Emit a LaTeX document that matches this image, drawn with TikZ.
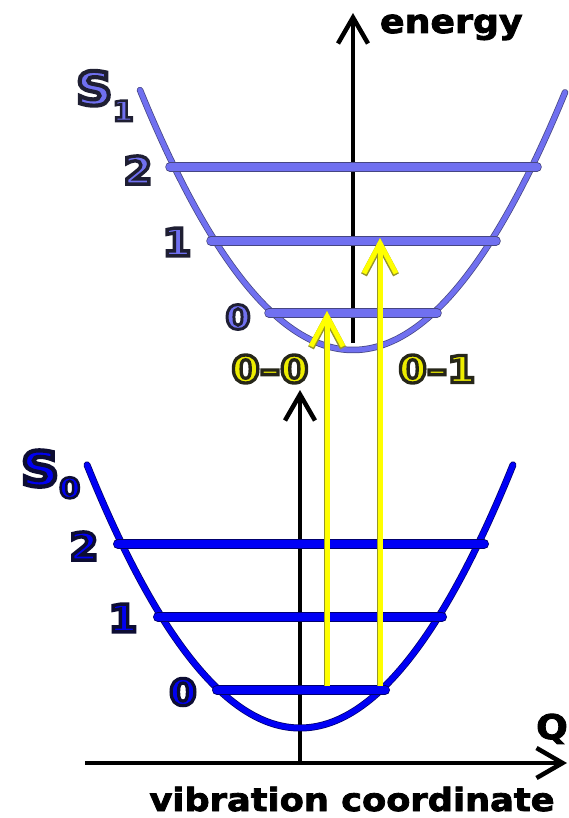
\documentclass[tikz,border=0pt]{standalone}
\usepackage{fontspec}
\usetikzlibrary{arrows.meta}
\newfontface\plb[FakeStretch=1.1,FakeBold=2.5]{DejaVu Sans Bold}
\newfontface\olb[FakeStretch=1.1,FakeBold=9]{DejaVu Sans Bold}
\definecolor{s1col}{RGB}{112,112,240}
\definecolor{s1edge}{RGB}{70,70,130}
\definecolor{s0col}{RGB}{0,0,245}
\definecolor{s0edge}{RGB}{0,0,110}
\definecolor{ycol}{RGB}{255,255,0}
\definecolor{yedge}{RGB}{150,150,40}
\newcommand\olt[3]{\special{pdf:bcolor [#1] [#2]}#3\special{pdf:ecolor}}
\newcommand\sonetxt[2]{\olt{0.44 0.44 0.94}{0.12 0.12 0.2}{\fontsize{#1}{#1}\selectfont\olb #2}}
\newcommand\szerotxt[2]{\olt{0 0 0.95}{0.05 0.05 0.2}{\fontsize{#1}{#1}\selectfont\olb #2}}
\newcommand\ytxt[2]{\olt{0.93 0.93 0}{0.15 0.15 0.1}{\fontsize{#1}{#1}\selectfont\olb #2}}
\tikzset{
  axisline/.style={line width=4.5pt, draw=black},
  barbtip/.style={-{Straight Barb[length=26pt,width=30pt]}},
  sonecurve/.style={line width=5pt, draw=s1col, line cap=round, preaction={draw=s1edge, line width=6.5pt, line cap=round}},
  sonelev/.style={line width=8pt, draw=s1col, line cap=round, preaction={draw=s1edge, line width=9.5pt, line cap=round}},
  szerocurve/.style={line width=5.5pt, draw=s0col, line cap=round, preaction={draw=s0edge, line width=7pt, line cap=round}},
  szerolev/.style={line width=8.5pt, draw=s0col, line cap=round, preaction={draw=s0edge, line width=10pt, line cap=round}},
  yarrow/.style={line width=5pt, draw=ycol, -{Straight Barb[length=30pt,width=32pt]}, preaction={draw=yedge, line width=6.5pt, -{Straight Barb[length=30pt,width=32pt]}}},
  lab/.style={inner sep=0pt, outer sep=0pt},
}
\begin{document}
\begin{tikzpicture}[x=1pt,y=-1pt]
\useasboundingbox (0,0) rectangle (568,818);
% axes
\coordinate (xa0) at (85,763);
\coordinate (xa1) at (567,763);
\coordinate (ya0) at (300,763);
\coordinate (ya1) at (300,390);
\coordinate (ea0) at (353,343);
\coordinate (ea1) at (353,13);
\draw[axisline, barbtip] (xa0) -- (xa1);
\draw[axisline, barbtip] (ya0) -- (ya1);
\draw[axisline, barbtip] (ea0) -- (ea1);
% potential curves
\draw[sonecurve] plot[domain=140:565, samples=80, smooth] (\x, {350 - 0.573*((\x-353)/10)^2});
\draw[szerocurve] plot[domain=87:513, samples=80, smooth] (\x, {728 - 0.58*((\x-300)/10)^2});
% S1 levels
\coordinate (a2l) at (170,167); \coordinate (a2r) at (537,167);
\coordinate (a1l) at (211,241); \coordinate (a1r) at (496,241);
\coordinate (a0l) at (269,313); \coordinate (a0r) at (437,313);
\draw[sonelev] (a2l) -- (a2r);
\draw[sonelev] (a1l) -- (a1r);
\draw[sonelev] (a0l) -- (a0r);
% S0 levels
\coordinate (b2l) at (118,544); \coordinate (b2r) at (484,544);
\coordinate (b1l) at (158,617); \coordinate (b1r) at (442,617);
\coordinate (b0l) at (217,690); \coordinate (b0r) at (385,690);
\draw[szerolev] (b2l) -- (b2r);
\draw[szerolev] (b1l) -- (b1r);
\draw[szerolev] (b0l) -- (b0r);
% transitions
\coordinate (t00a) at (327,686); \coordinate (t00b) at (327,311);
\coordinate (t01a) at (380,686); \coordinate (t01b) at (380,238);
\draw[yarrow] (t00a) -- (t00b);
\draw[yarrow] (t01a) -- (t01b);
% plain labels
\node[lab, anchor=base west] (energy) at (380,33) {\fontsize{33}{33}\selectfont\plb energy};
\node[lab, anchor=base] (vib) at (352,811) {\fontsize{32}{32}\selectfont\plb vibration coordinate};
\node[lab, anchor=base] (qlab) at (552,739) {\fontsize{34}{34}\selectfont\plb Q};
% S1 labels
\node[lab, anchor=base west] (s1lab) at (76,105) {\sonetxt{46}{S}\raisebox{-16pt}{\sonetxt{28}{1}}};
\node[lab] (s1n2) at (138,170) {\sonetxt{38}{2}};
\node[lab] (s1n1) at (177,242) {\sonetxt{38}{1}};
\node[lab] (s1n0) at (238,317) {\sonetxt{33}{0}};
% S0 labels
\node[lab, anchor=base west] (s0lab) at (21,486) {\szerotxt{48}{S}\raisebox{-12pt}{\szerotxt{28}{0}}};
\node[lab] (s0n2) at (84,546) {\szerotxt{38}{2}};
\node[lab] (s0n1) at (123,618) {\szerotxt{38}{1}};
\node[lab] (s0n0) at (183,692) {\szerotxt{36}{0}};
% transition labels
\node[lab] (l00) at (270,369) {\ytxt{37}{0–0}};
\node[lab] (l01) at (437,369) {\ytxt{37}{0–1}};
\end{tikzpicture}
\end{document}
